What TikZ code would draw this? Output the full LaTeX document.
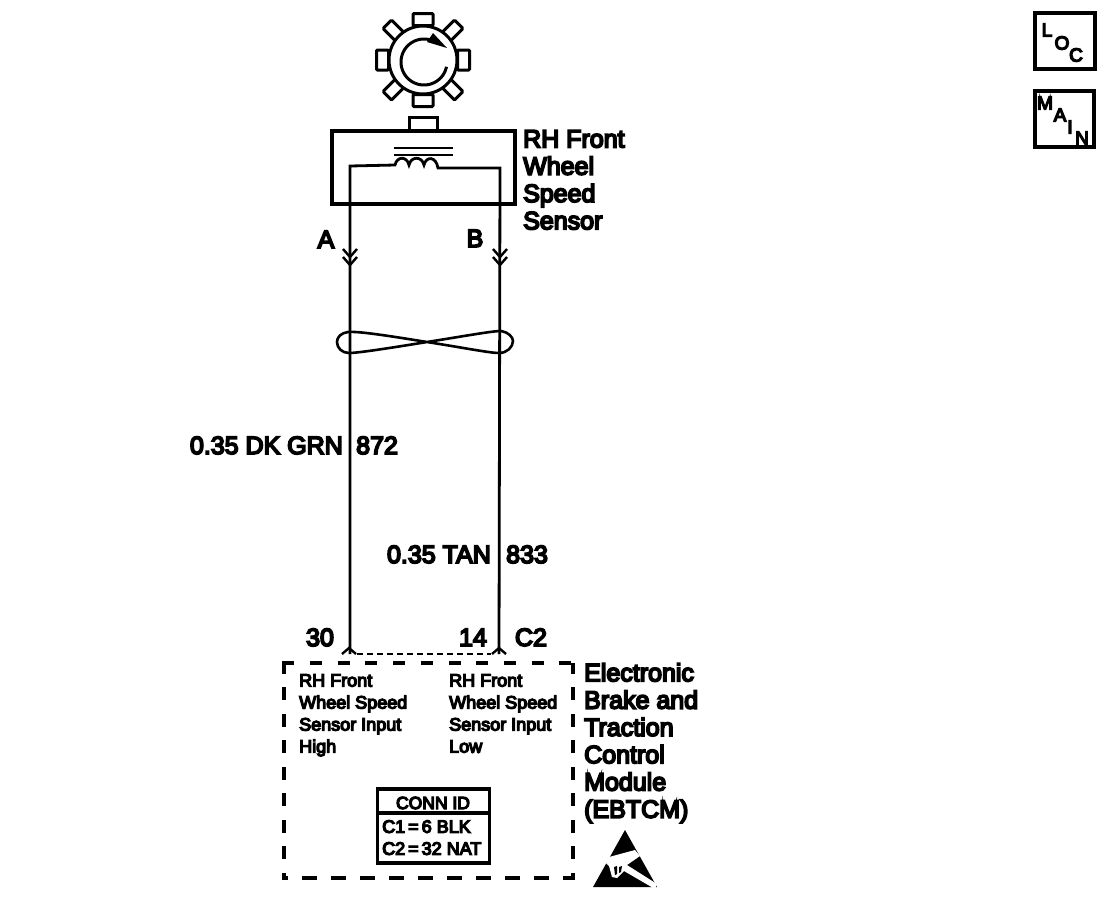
\documentclass[tikz,border=0pt]{standalone}
\usepackage{fontspec}
\newfontfamily\labfont[RawFeature={embolden=7}]{Liberation Sans}
\usetikzlibrary{arrows.meta,calc}
\tikzset{
  wire/.style={line width=2.8pt,black},
  boxline/.style={draw=black,line width=3.8pt,inner sep=0pt},
  big/.style={font=\labfont\fontsize{25}{27.3}\selectfont,inner sep=0pt,align=left,text depth=0pt},
  small/.style={font=\labfont\fontsize{18}{22}\selectfont,inner sep=0pt,align=left},
  corner/.style={font=\labfont\fontsize{19}{19}\selectfont,inner sep=0pt},
  tooth/.style={draw=black,line width=3pt,fill=white,rounded corners=1pt,minimum width=20pt,minimum height=12pt,inner sep=0pt},
  chev/.style={line width=2.4pt,black},
  hdash/.style={line width=4.2pt,dash pattern=on 12pt off 15.7pt},
  bdash/.style={line width=4.2pt,dash pattern=on 15pt off 14pt,dash phase=9pt},
  vdash/.style={line width=4.2pt,dash pattern=on 13pt off 13.5pt,dash phase=2.5pt}
}
\begin{document}
\begin{tikzpicture}[x=1pt,y=-1pt]
\useasboundingbox (0,0) rectangle (1120,898);
\fill[white] (0,0) rectangle (1120,898);
% target wheel
\coordinate (hub) at (423,60);
\foreach \a in {0,45,...,315}{
  \node[tooth,rotate=\a] (t\a) at ($(hub)+(\a+90:40.5)$) {};
}
\node[circle,draw=black,line width=3pt,fill=white,minimum size=68pt,inner sep=0pt] (wheel) at (hub) {};
\draw[line width=3pt] plot[domain=12:288,samples=70,smooth] ({424+23*cos(\x)},{62+23*sin(\x)});
\fill (447,48) -- (433,33) -- (427,42) -- cycle;
% sensor
\node[boxline,minimum width=28pt,minimum height=14pt,line width=3pt] (tab) at (423,124) {};
\node[boxline,fill=white,minimum width=183pt,minimum height=73pt] (sensor) at (423.5,167.5) {};
\draw[line width=2.6pt] (394,148) -- (453,148) (394,155) -- (453,155);
\coordinate (pinAtop) at (350,166);
\coordinate (pinBtop) at (500,168);
\coordinate (pinA) at (350,654);
\coordinate (pinB) at (499,654);
\draw[wire] (pinA) -- (pinAtop) -- (395,165)
  .. controls (397,156) and (407,156) .. (409,165)
  .. controls (411,156) and (422,156) .. (424,165)
  .. controls (426,156) and (436,156) .. (438,168)
  -- (pinBtop) -- (pinB);
% connector chevrons
\foreach \n/\x in {A/350,B/500}{
  \coordinate (u\n) at (\x,257);
  \draw[chev] ($(u\n)+(-7,-8)$) -- (u\n) -- ($(u\n)+(7,-8)$);
  \draw[chev] ($(u\n)+(-7,0)$) -- ($(u\n)+(0,8)$) -- ($(u\n)+(7,0)$);
}
\foreach \n/\x in {A/349,B/499}{
  \coordinate (d\n) at (\x,648);
  \draw[chev] ($(d\n)+(-7,6)$) -- (d\n) -- ($(d\n)+(7,6)$);
}
\draw[line width=1.8pt,dash pattern=on 6pt off 4pt] ($(dA)+(8,6)$) -- ($(dB)+(-8,6)$);
% twist
\draw[line width=2.6pt] (427,342)
  .. controls (390,336) and (358,331) .. (348,332)
  .. controls (341,333) and (337,337) .. (337,342)
  .. controls (337,348) and (342,353) .. (349,353)
  .. controls (358,353) and (390,348) .. (427,342)
  .. controls (465,336) and (492,331) .. (501,331)
  .. controls (508,332) and (513,337) .. (513,341)
  .. controls (513,347) and (507,353) .. (499,353)
  .. controls (490,353) and (465,348) .. (427,342) -- cycle;
% labels
\node[big,anchor=north west] (sensorlabel) at (523,130) {RH Front\\Wheel\\Speed\\Sensor};
\node[big,anchor=base] (lA) at (326,248) {A};
\node[big,anchor=base] (lB) at (475,247) {B};
\node[big,anchor=base east] (w1) at (343,454) {0.35 DK GRN};
\node[big,anchor=base west] (n1) at (356,454) {872};
\node[big,anchor=base east] (w2) at (491,563) {0.35 TAN};
\node[big,anchor=base west] (n2) at (506,563) {833};
\node[big,anchor=base] (p30) at (320,646) {30};
\node[big,anchor=base] (p14) at (473,646) {14};
\node[big,anchor=base] (c2) at (531,646) {C2};
% module
\node[minimum width=288pt,minimum height=214pt,inner sep=0pt] (module) at (428.5,770.5) {};
\draw[hdash] (module.north west) ++(-2,0) -- ($(module.north east)+(2,0)$);
\draw[bdash] (module.south west) ++(-2,0) -- ($(module.south east)+(2,0)$);
\draw[vdash] (module.north west) -- (module.south west);
\draw[vdash] (module.north east) -- (module.south east);
\node[small,anchor=north west] (inH) at (299,674) {RH Front\\Wheel Speed\\Sensor Input\\High};
\node[small,anchor=north west] (inL) at (449,674) {RH Front\\Wheel Speed\\Sensor Input\\Low};
\node[big,anchor=north west] (modlabel) at (584,663) {Electronic\\Brake and\\Traction\\Control\\Module\\(EBTCM)};
% conn id
\node[boxline,minimum width=112pt,minimum height=74pt,line width=3.2pt] (conn) at (433.5,826) {};
\draw[line width=3.4pt] (conn.west |- 0,813) -- (conn.east |- 0,813);
\node[font=\labfont\fontsize{17.5}{17}\selectfont,inner sep=0pt,anchor=base] (connid) at (433,809) {CONN ID};
\node[font=\labfont\fontsize{18}{22}\selectfont,inner sep=0pt,align=left,anchor=north west] (connlist) at (382,820) {C1\,=\,6 BLK\\C2\,=\,32 NAT};
% ESD
\fill (625,830) -- (593,887) -- (657,887) -- cycle;
\fill[white] (600,860) -- (609,857) -- (635,850) -- (640,856) -- (627,865) -- (657,884) -- (655,889) -- (624,871) -- (617,878) -- (612,877) -- (609,866) -- (604,861) -- cycle;
\fill (614,867) -- (617,866) -- (617,874) -- (615,875) -- cycle;
\fill (619,867) -- (622,866) -- (621,872) -- (619,873) -- cycle;
% corner tags
\node[boxline,minimum width=60pt,minimum height=56pt,line width=4pt] (loc) at (1065,41) {};
\node[corner] (L1) at (1047,30) {L};
\node[corner] (O1) at (1062,43) {O};
\node[corner] (C1) at (1076,55) {C};
\node[boxline,minimum width=59pt,minimum height=56pt,line width=4pt] (main) at (1064.5,119) {};
\node[corner] (M2) at (1045,103) {M};
\node[corner] (A2) at (1060,115) {A};
\node[corner] (I2) at (1070,127) {I};
\node[corner] (N2) at (1082,138) {N};
\end{tikzpicture}
\end{document}
